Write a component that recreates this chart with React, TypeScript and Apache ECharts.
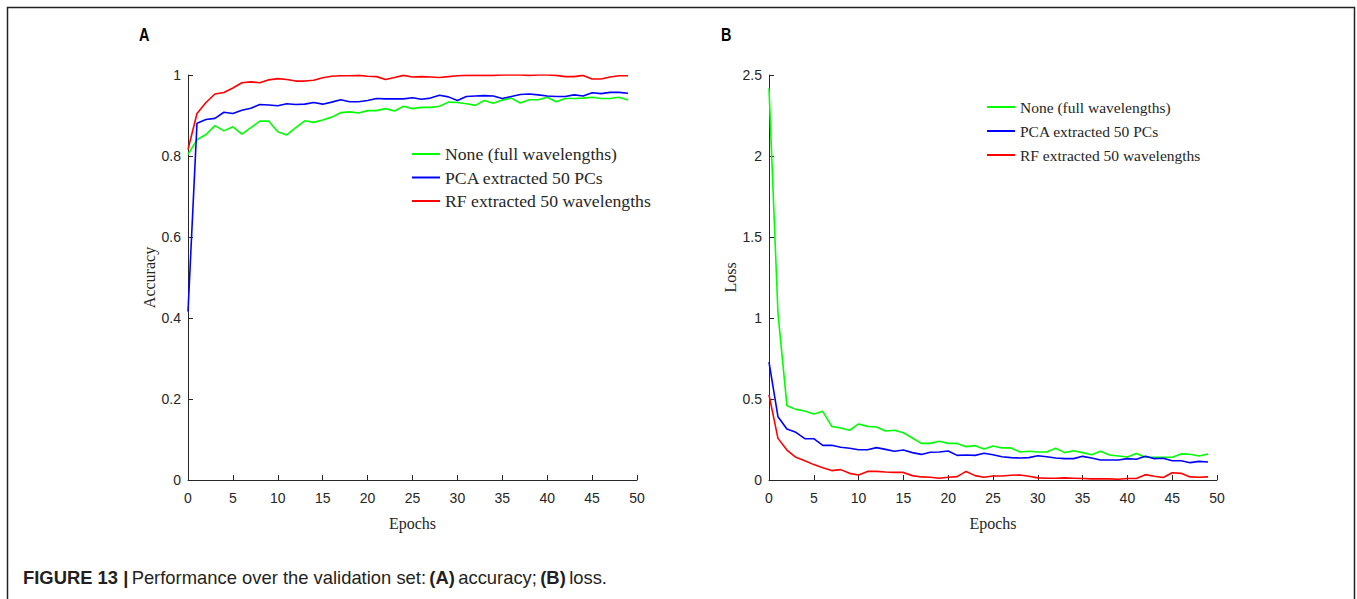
import React, { useEffect, useRef } from "react";
import * as echarts from "echarts";

const seriesNames = ["None (full wavelengths)", "PCA extracted 50 PCs", "RF extracted 50 wavelengths"];
const seriesColors = ["#00ff00", "#0000ff", "#ff0000"];

const accNone = [0.804, 0.84, 0.853, 0.875, 0.862, 0.872, 0.854, 0.87, 0.886, 0.886, 0.86, 0.852, 0.87, 0.887, 0.883, 0.889, 0.896, 0.907, 0.909, 0.906, 0.912, 0.912, 0.917, 0.911, 0.923, 0.917, 0.92, 0.92, 0.923, 0.933, 0.932, 0.929, 0.925, 0.937, 0.93, 0.938, 0.943, 0.931, 0.939, 0.939, 0.945, 0.934, 0.942, 0.942, 0.943, 0.945, 0.942, 0.942, 0.945, 0.938];
const accPCA = [0.416, 0.881, 0.89, 0.893, 0.908, 0.905, 0.913, 0.918, 0.927, 0.926, 0.924, 0.929, 0.927, 0.928, 0.932, 0.928, 0.933, 0.939, 0.934, 0.934, 0.937, 0.942, 0.941, 0.941, 0.941, 0.944, 0.94, 0.943, 0.95, 0.946, 0.937, 0.947, 0.948, 0.949, 0.948, 0.942, 0.947, 0.952, 0.953, 0.951, 0.948, 0.947, 0.947, 0.951, 0.948, 0.956, 0.954, 0.957, 0.957, 0.955];
const accRF = [0.816, 0.905, 0.932, 0.953, 0.957, 0.968, 0.981, 0.983, 0.981, 0.988, 0.991, 0.989, 0.985, 0.985, 0.987, 0.993, 0.997, 0.998, 0.998, 0.999, 0.997, 0.996, 0.989, 0.994, 0.999, 0.995, 0.996, 0.995, 0.994, 0.996, 0.998, 0.999, 0.999, 0.999, 0.999, 1.0, 1.0, 1.0, 0.999, 1.0, 1.0, 0.999, 0.996, 0.996, 0.999, 0.99, 0.99, 0.995, 0.998, 0.998];

const lossNone = [2.418, 1.03, 0.459, 0.436, 0.426, 0.407, 0.424, 0.331, 0.321, 0.307, 0.346, 0.331, 0.327, 0.302, 0.307, 0.292, 0.259, 0.226, 0.226, 0.239, 0.226, 0.226, 0.206, 0.212, 0.191, 0.21, 0.198, 0.198, 0.173, 0.177, 0.173, 0.173, 0.196, 0.169, 0.181, 0.169, 0.156, 0.177, 0.154, 0.148, 0.142, 0.163, 0.14, 0.14, 0.14, 0.14, 0.161, 0.159, 0.148, 0.161];
const lossPCA = [0.728, 0.391, 0.315, 0.294, 0.255, 0.255, 0.214, 0.214, 0.202, 0.196, 0.187, 0.187, 0.2, 0.189, 0.177, 0.185, 0.169, 0.158, 0.171, 0.173, 0.179, 0.152, 0.154, 0.152, 0.165, 0.156, 0.144, 0.138, 0.136, 0.138, 0.15, 0.144, 0.136, 0.132, 0.132, 0.146, 0.136, 0.123, 0.123, 0.123, 0.132, 0.128, 0.146, 0.132, 0.134, 0.119, 0.119, 0.107, 0.115, 0.111];
const lossRF = [0.525, 0.257, 0.185, 0.14, 0.119, 0.095, 0.076, 0.058, 0.064, 0.041, 0.031, 0.053, 0.053, 0.049, 0.047, 0.047, 0.027, 0.019, 0.017, 0.011, 0.017, 0.021, 0.053, 0.027, 0.017, 0.025, 0.025, 0.029, 0.031, 0.023, 0.013, 0.011, 0.011, 0.013, 0.011, 0.009, 0.007, 0.007, 0.007, 0.005, 0.009, 0.009, 0.033, 0.023, 0.015, 0.045, 0.041, 0.019, 0.017, 0.019];

const axisColor = "#262626";
const sansFont = "'Liberation Sans', Arial, sans-serif";
const serifFont = "'Liberation Serif', 'Times New Roman', serif";

function pairs(values: number[]) {
  return values.map((v, i) => [i, v]);
}

function makeXAxis(gridIndex: number) {
  return {
    type: "value",
    gridIndex,
    min: 0,
    max: 50,
    interval: 5,
    name: "Epochs",
    nameLocation: "middle",
    nameGap: 35,
    nameTextStyle: { fontFamily: serifFont, fontSize: 16, color: axisColor },
    axisLine: { show: true, lineStyle: { color: axisColor, width: 1 } },
    axisTick: { show: true, inside: true, length: 5, lineStyle: { color: axisColor } },
    axisLabel: { fontFamily: sansFont, fontSize: 14, color: axisColor, margin: 11 },
    splitLine: { show: false },
  };
}

function makeYAxis(gridIndex: number, max: number, interval: number, name: string) {
  return {
    type: "value",
    gridIndex,
    min: 0,
    max,
    interval,
    name,
    nameLocation: "middle",
    nameGap: 28,
    nameTextStyle: { fontFamily: serifFont, fontSize: 16, color: axisColor },
    axisLine: { show: true, lineStyle: { color: axisColor, width: 1 } },
    axisTick: { show: true, inside: true, length: 5, lineStyle: { color: axisColor } },
    axisLabel: { fontFamily: sansFont, fontSize: 14, color: axisColor, margin: 7 },
    splitLine: { show: false },
  };
}

function lineSeries(name: string, color: string, values: number[], idx: number) {
  return {
    type: "line",
    name,
    xAxisIndex: idx,
    yAxisIndex: idx,
    data: pairs(values),
    showSymbol: false,
    symbol: "none",
    lineStyle: { color, width: 1.6 },
    itemStyle: { color },
  };
}

function makeLegend(left: number, top: number, fontSize: number, itemGap: number) {
  return {
    left,
    top,
    padding: 0,
    orient: "vertical",
    icon: "rect",
    itemWidth: 28,
    itemHeight: 2,
    itemGap,
    selectedMode: false,
    textStyle: { fontFamily: serifFont, fontSize, color: axisColor, lineHeight: 18 },
    data: seriesNames,
  };
}

export default function App() {
  const ref = useRef<HTMLDivElement>(null);
  useEffect(() => {
    if (!ref.current) return;
    const chart = echarts.init(ref.current, null, { renderer: "svg" });
    chart.setOption({
      animation: false,
      backgroundColor: "#ffffff",
      grid: [
        { left: 188, right: 720, top: 75, bottom: 119 },
        { left: 769, right: 140, top: 75, bottom: 119 },
      ],
      xAxis: [makeXAxis(0), makeXAxis(1)],
      yAxis: [makeYAxis(0, 1, 0.2, "Accuracy"), makeYAxis(1, 2.5, 0.5, "Loss")],
      legend: [makeLegend(412, 145, 17.7, 5.5), makeLegend(987, 98, 15.5, 6)],
      series: [
        lineSeries(seriesNames[0], seriesColors[0], accNone, 0),
        lineSeries(seriesNames[1], seriesColors[1], accPCA, 0),
        lineSeries(seriesNames[2], seriesColors[2], accRF, 0),
        lineSeries(seriesNames[0], seriesColors[0], lossNone, 1),
        lineSeries(seriesNames[1], seriesColors[1], lossPCA, 1),
        lineSeries(seriesNames[2], seriesColors[2], lossRF, 1),
      ],
      graphic: [
        {
          type: "polyline",
          silent: true,
          shape: { points: [[7.5, 620], [7.5, 7.5], [1354.5, 7.5], [1354.5, 620]] },
          style: { stroke: "#222222", lineWidth: 1.5, fill: null },
        },
        {
          type: "text",
          x: 139,
          y: 25,
          scaleX: 0.8,
          style: { text: "A", font: "bold 18px 'Liberation Sans', Arial, sans-serif", fill: "#000" },
        },
        {
          type: "text",
          x: 721,
          y: 25,
          scaleX: 0.8,
          style: { text: "B", font: "bold 18px 'Liberation Sans', Arial, sans-serif", fill: "#000" },
        },
        {
          type: "text",
          left: 23,
          top: 568,
          style: {
            text: "{b|FIGURE 13 |} {r|Performance over the validation set:} {b|(A)} {r|accuracy;} {b|(B)} {r|loss.}",
            rich: {
              b: { fontFamily: sansFont, fontWeight: "bold", fontSize: 18.4, fill: "#231f20" },
              r: { fontFamily: sansFont, fontSize: 18.4, fill: "#231f20" },
            },
          },
        },
      ],
    });
    return () => chart.dispose();
  }, []);
  return (
    <div
      ref={ref}
      style={{ position: "absolute", left: 0, top: 0, width: 1357, height: 599, background: "#fff" }}
    />
  );
}
